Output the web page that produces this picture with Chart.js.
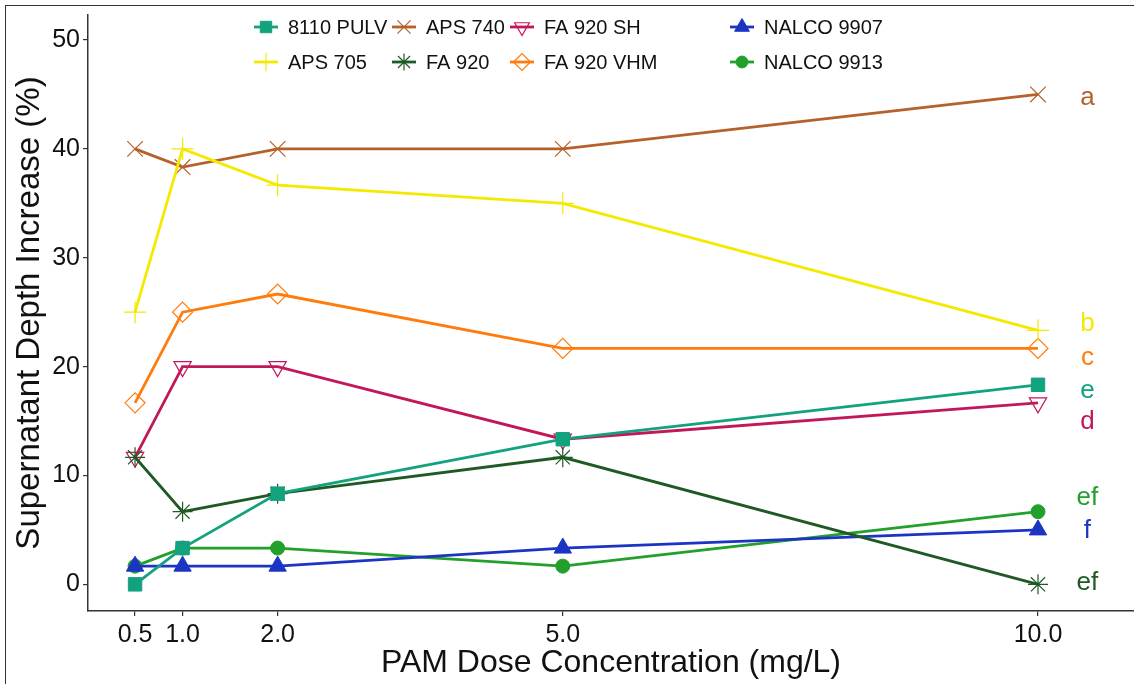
<!DOCTYPE html>
<html>
<head>
<meta charset="utf-8">
<title>PAM dose vs supernatant depth</title>
<script src="https://cdn.jsdelivr.net/npm/chart.js@4.4.1/dist/chart.umd.min.js"></script>
<style>
    html, body { margin: 0; padding: 0; background: #fff; }
    #wrap { position: relative; width: 1134px; height: 684px; overflow: hidden; }
    #frame { position: absolute; left: 5px; top: 5px; width: 1140px; height: 690px;
             border-top: 1.5px solid #333; border-left: 1.5px solid #333; pointer-events: none; }
</style>
</head>
<body>
<div id="wrap">
    <canvas id="chart" width="1134" height="684"></canvas>
    <div id="frame"></div>
</div>
<script>
    'use strict';

    // ---- data ----
    const doses = [0.5, 1.0, 2.0, 5.0, 10.0];
    const xTickLabels = ['0.5', '1.0', '2.0', '5.0', '10.0'];
    const yTicks = [0, 10, 20, 30, 40, 50];

    const pulv8110  = [0, 3.33, 8.33, 13.33, 18.33];
    const aps705    = [25, 40, 36.67, 35, 23.33];
    const aps740    = [40, 38.33, 40, 40, 45];
    const fa920     = [11.67, 6.67, 8.33, 11.67, 0];
    const fa920sh   = [11.67, 20, 20, 13.33, 16.67];
    const fa920vhm  = [16.67, 25, 26.67, 21.67, 21.67];
    const nalco9907 = [1.67, 1.67, 1.67, 3.33, 5];
    const nalco9913 = [1.67, 3.33, 3.33, 1.67, 6.67];

    // significance letters at the right edge
    const letterText   = ['a', 'b', 'c', 'e', 'd', 'ef', 'f', 'ef'];
    const letterY      = [44.7, 23.9, 20.8, 17.8, 14.9, 7.95, 4.96, 0.1];
    const letterSeries = ['APS 740', 'APS 705', 'FA 920 VHM', '8110 PULV', 'FA 920 SH', 'NALCO 9913', 'NALCO 9907', 'FA 920'];
    const letterX = 10.52;

    // ---- styling ----
    const FONT = "'Liberation Sans', Arial, sans-serif";
    const INK = '#333333';

    const series = [
        { label: '8110 PULV',  data: pulv8110,  color: '#13a27e', style: 'rect',     radius: 9.5, fill: true,  rot: 0 },
        { label: 'APS 705',    data: aps705,    color: '#f4e900', style: 'cross',    radius: 11,  fill: false, rot: 0 },
        { label: 'APS 740',    data: aps740,    color: '#b5612b', style: 'crossRot', radius: 11,  fill: false, rot: 0 },
        { label: 'FA 920',     data: fa920,     color: '#1f5a24', style: 'star',     radius: 10,  fill: false, rot: 0 },
        { label: 'FA 920 SH',  data: fa920sh,   color: '#c2185b', style: 'triangle', radius: 10,  fill: false, rot: 180 },
        { label: 'FA 920 VHM', data: fa920vhm,  color: '#ff7b0c', style: 'rectRot',  radius: 10,  fill: false, rot: 0 },
        { label: 'NALCO 9907', data: nalco9907, color: '#1b34c3', style: 'triangle', radius: 10,  fill: true,  rot: 0 },
        { label: 'NALCO 9913', data: nalco9913, color: '#23a02b', style: 'circle',   radius: 7,   fill: true,  rot: 0 }
    ];

    function markerBorderWidth(s) {
        return s.fill ? 1 : 1.2;
    }

    const datasets = series.map(s => ({
        label: s.label,
        data: doses.map((d, i) => ({ x: d, y: s.data[i] })),
        borderColor: s.color,
        backgroundColor: s.color,
        borderWidth: 2.8,
        pointStyle: s.style,
        pointRadius: s.radius,
        pointRotation: s.rot,
        pointBackgroundColor: s.fill ? s.color : 'rgba(0,0,0,0)',
        pointBorderColor: s.color,
        pointBorderWidth: markerBorderWidth(s),
        pointHoverRadius: s.radius,
        tension: 0,
        clip: false
    }));

    // legend drawn ggplot-style: 2 rows, filled column by column
    const legendPlugin = {
        id: 'gridLegend',
        afterDraw(chart) {
            const ctx = chart.ctx;
            const colX = [266, 404, 522, 742];
            const rowY = [27, 62];
            ctx.save();
            ctx.font = '20px ' + FONT;
            ctx.textBaseline = 'middle';
            ctx.textAlign = 'left';
            series.forEach((s, i) => {
                const cx = colX[Math.floor(i / 2)];
                const cy = rowY[i % 2];
                ctx.strokeStyle = s.color;
                ctx.lineWidth = 2.8;
                ctx.beginPath();
                ctx.moveTo(cx - 12, cy);
                ctx.lineTo(cx + 12, cy);
                ctx.stroke();
                ctx.fillStyle = s.fill ? s.color : 'rgba(0,0,0,0)';
                ctx.lineWidth = markerBorderWidth(s);
                Chart.helpers.drawPoint(ctx, {
                    pointStyle: s.style, radius: s.radius * 0.85, rotation: s.rot,
                    borderWidth: markerBorderWidth(s)
                }, cx, cy);
                ctx.fillStyle = '#111';
                ctx.fillText(s.label, cx + 22, cy + 1);
            });
            ctx.restore();
        }
    };

    const letterPlugin = {
        id: 'sigLetters',
        afterDatasetsDraw(chart) {
            const ctx = chart.ctx;
            const xs = chart.scales.x, ys = chart.scales.y;
            ctx.save();
            ctx.font = '26px ' + FONT;
            ctx.textAlign = 'center';
            ctx.textBaseline = 'middle';
            letterText.forEach((t, i) => {
                const s = series.find(d => d.label === letterSeries[i]);
                ctx.fillStyle = s.color;
                ctx.fillText(t, xs.getPixelForValue(letterX), ys.getPixelForValue(letterY[i]));
            });
            ctx.restore();
        }
    };

    new Chart(document.getElementById('chart').getContext('2d'), {
        type: 'line',
        data: { datasets },
        options: {
            responsive: false,
            animation: false,
            devicePixelRatio: 1,
            layout: { autoPadding: false, padding: { top: 15, right: 0, left: 0, bottom: 0 } },
            plugins: { legend: { display: false }, tooltip: { enabled: false } },
            scales: {
                x: {
                    type: 'linear',
                    min: 0.005,
                    max: 11.01,
                    afterBuildTicks(scale) { scale.ticks = doses.map(v => ({ value: v })); },
                    afterFit(scale) { scale.height = 73; scale.paddingRight = 0; scale.paddingLeft = 0; },
                    grid: { display: true, drawOnChartArea: false, drawTicks: true, tickLength: 5, color: INK, lineWidth: 1.2 },
                    border: { display: true, color: INK, width: 1.5 },
                    ticks: {
                        color: '#111', padding: 4, maxRotation: 0, autoSkip: false,
                        font: { family: FONT, size: 25 },
                        callback: (v) => xTickLabels[doses.indexOf(v)]
                    },
                    title: {
                        display: true, text: 'PAM Dose Concentration (mg/L)', color: '#111',
                        font: { family: FONT, size: 32 }, padding: { top: 0, bottom: 2 }
                    }
                },
                y: {
                    type: 'linear',
                    min: -2.45,
                    max: 52.3,
                    afterBuildTicks(scale) { scale.ticks = yTicks.map(v => ({ value: v })); },
                    afterFit(scale) { scale.width = 88; scale.paddingTop = 0; scale.paddingBottom = 0; },
                    grid: { display: true, drawOnChartArea: false, drawTicks: true, tickLength: 5, color: INK, lineWidth: 1.2 },
                    border: { display: true, color: INK, width: 1.5 },
                    ticks: {
                        color: '#111', padding: 3,
                        font: { family: FONT, size: 25 }
                    },
                    title: {
                        display: true, text: 'Supernatant Depth Increase (%)', color: '#111',
                        font: { family: FONT, size: 33 }, padding: { top: 10, bottom: 0 }
                    }
                }
            }
        },
        plugins: [letterPlugin, legendPlugin]
    });
</script>
</body>
</html>
